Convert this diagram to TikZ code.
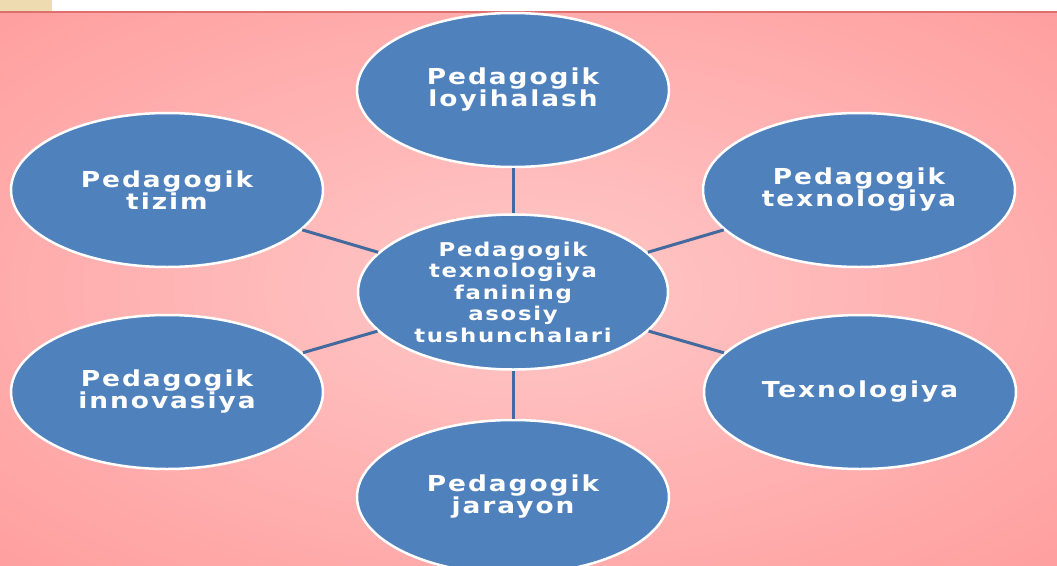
\documentclass[tikz,border=0pt]{standalone}
\usepackage{fontspec}
\setsansfont{DejaVu Sans}[FakeStretch=1.2, LetterSpace=9]
\definecolor{bubble}{RGB}{79,129,189}
\definecolor{spoke}{RGB}{66,106,158}
\definecolor{pinkin}{RGB}{255,200,200}
\definecolor{pinkout}{RGB}{255,142,142}
\definecolor{redline}{RGB}{222,112,112}
\definecolor{sand}{RGB}{238,220,176}
\pgfdeclareradialshading{pinkglow}{\pgfpoint{0bp}{0bp}}{color(0bp)=(pinkin); color(50bp)=(pinkout)}
\tikzset{
    bubblenode/.style={ellipse, fill=bubble, draw=white, line width=2.5pt,
        minimum width=312pt, minimum height=154pt, inner sep=0pt,
        text=white, align=center, font=\sffamily\bfseries\fontsize{22}{22}\selectfont},
    link/.style={spoke, line width=3pt}
}
\usetikzlibrary{shapes.geometric}
\begin{document}
\begin{tikzpicture}[x=1pt, y=-1pt]
    \useasboundingbox (0, 0) rectangle (1057, 565);
    \clip (0, 0) rectangle (1057, 565);

    % Background
    \fill[white] (0, 0) rectangle (1057, 12);
    \fill[sand] (0, 0) rectangle (52, 11);
    \shade[shading=pinkglow] (0, 12) rectangle (1057, 565);
    \draw[redline, line width=1.5pt] (0, 12) -- (1057, 12);

    % Bubbles
    \node[bubblenode, font=\sffamily\bfseries\fontsize{19}{21.5}\selectfont,
        minimum width=310pt, minimum height=155pt] (markaz) at (513, 292)
        {Pedagogik\\texnologiya\\fanining\\asosiy\\tushunchalari};
    \node[bubblenode] (loyiha) at (513, 90) {Pedagogik\\loyihalash};
    \node[bubblenode] (tizim) at (167, 190) {Pedagogik\\tizim};
    \node[bubblenode] (texno) at (859, 190) {Pedagogik\\texnologiya};
    \node[bubblenode] (innov) at (167, 392) {Pedagogik\\innovasiya};
    \node[bubblenode] (texnol) at (860, 392) {Texnologiya};
    \node[bubblenode] (jarayon) at (513, 497) {Pedagogik\\jarayon};

    % Spokes
    \draw[link] (markaz) -- (loyiha);
    \draw[link] (markaz) -- (tizim);
    \draw[link] (markaz) -- (texno);
    \draw[link] (markaz) -- (innov);
    \draw[link] (markaz) -- (texnol);
    \draw[link] (markaz) -- (jarayon);
\end{tikzpicture}
\end{document}
